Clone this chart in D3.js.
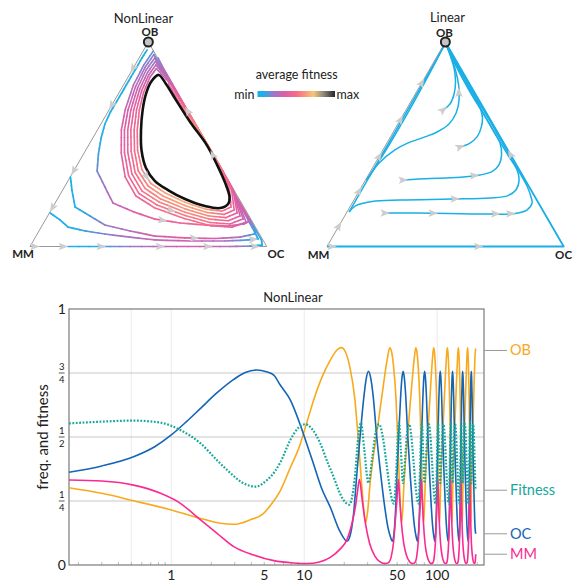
<!DOCTYPE html>
<html><head><meta charset="utf-8">
<script src="https://cdn.jsdelivr.net/npm/d3@7"></script>
<style>
body{margin:0;background:#fff;}
svg text{font-family:Lato,"Open Sans",sans-serif;fill:#222;}
</style></head><body>
<svg id="chart" width="574" height="582"></svg>
<script>
// ================= DATA =================
// bottom chart: time ticks (log axis)
const timeTicks = [1, 5, 10, 50, 100];
const minorTimeTicks = [0.2,0.3,0.4,0.5,0.6,0.7,0.8,0.9,2,3,4,5,6,7,8,9,20,30,40,50,60,70,80,90,200];
const gridTimes = [0.5, 1, 10, 100];
const yTickVals = [0, 0.25, 0.5, 0.75, 1];
const yTickNum = ['0', '1', '1', '3', '1'];
const yTickDen = [null, '4', '2', '4', null];

// series [time, value]
const seriesOB = [
[0.17,.302],[0.3,.28],[0.52,.251],[1,.215],[1.66,.182],[2.34,.163],[2.95,.159],[3.9,.176],[4.9,.2],[5.8,.245],[6.6,.29],[7.85,.38],[9.3,.47],[10.5,.56],[11.7,.64],[13.5,.73],[15.7,.8],[17.3,.835],[19,.849],
[20.5,.83],[22,.775],[24,.65],[25.5,.49],[27,.32],[28,.22],[29,.165],[30,.21],[31.3,.32],[33,.42],[35,.508],[37,.6],[39.4,.703],[42,.8],[44,.848],
[45.5,.83],[47,.775],[49,.65],[50.5,.49],[52,.32],[53,.22],[54,.165],[55,.21],[56.3,.32],[58,.42],[60,.508],[62,.6],[64.4,.703],[67,.8],[69,.848],
[70.5,.83],[72,.775],[74,.65],[75.5,.49],[77,.32],[78,.22],[79,.165],[80,.21],[81.3,.32],[83,.42],[85,.508],[87,.6],[89.4,.703],[92,.8],[94,.848],
[95.5,.83],[97,.775],[99,.65],[100.5,.49],[102,.32],[103,.22],[104,.165],[105,.21],[106.3,.32],[108,.42],[110,.508],[112,.6],[114.4,.703],[117,.8],[119,.848],
[120.5,.83],[122,.775],[124,.65],[125.5,.49],[127,.32],[128,.22],[129,.165],[130,.21],[131.3,.32],[133,.42],[135,.508],[137,.6],[139.4,.703],[142,.8],[144,.848],
[145.5,.83],[147,.775],[149,.65],[150.5,.49],[152,.32],[153,.22],[154,.165],[155,.21],[156.3,.32],[158,.42],[160,.508],[162,.6],[164.4,.703],[167,.8],[169,.848],
[170.5,.83],[172,.775],[174,.65],[175.5,.49],[177,.32],[178,.22],[179,.165],[180,.21],[181.3,.32],[183,.42],[185,.508],[187,.6],[189.4,.703],[192,.8],[194,.845],[195,.838]
];
const seriesOC = [
[0.17,.362],[0.3,.387],[0.52,.423],[0.75,.462],[1,.508],[1.3,.56],[1.66,.612],[2.2,.672],[2.95,.725],[3.6,.752],[4.4,.762],[5.2,.755],[5.9,.742],[6.6,.703],[7.85,.645],[9.3,.55],[10.5,.47],[11.7,.397],[13.5,.3],[15.7,.226],[18.6,.13],[21,.093],
[22,.11],[23.5,.2],[25,.37],[26.5,.52],[28,.65],[29.3,.73],[30.4,.757],[31.5,.735],[33,.66],[35,.508],[37.5,.36],[40,.24],[42.5,.15],[44.5,.11],[46,.093],
[47,.11],[48.5,.2],[50,.37],[51.5,.52],[53,.65],[54.3,.73],[55.4,.757],[56.5,.735],[58,.66],[60,.508],[62.5,.36],[65,.24],[67.5,.15],[69.5,.11],[71,.093],
[72,.11],[73.5,.2],[75,.37],[76.5,.52],[78,.65],[79.3,.73],[80.4,.757],[81.5,.735],[83,.66],[85,.508],[87.5,.36],[90,.24],[92.5,.15],[94.5,.11],[96,.093],
[97,.11],[98.5,.2],[100,.37],[101.5,.52],[103,.65],[104.3,.73],[105.4,.757],[106.5,.735],[108,.66],[110,.508],[112.5,.36],[115,.24],[117.5,.15],[119.5,.11],[121,.093],
[122,.11],[123.5,.2],[125,.37],[126.5,.52],[128,.65],[129.3,.73],[130.4,.757],[131.5,.735],[133,.66],[135,.508],[137.5,.36],[140,.24],[142.5,.15],[144.5,.11],[146,.093],
[147,.11],[148.5,.2],[150,.37],[151.5,.52],[153,.65],[154.3,.73],[155.4,.757],[156.5,.735],[158,.66],[160,.508],[162.5,.36],[165,.24],[167.5,.15],[169.5,.11],[171,.093],
[172,.11],[173.5,.2],[175,.37],[176.5,.52],[178,.65],[179.3,.73],[180.4,.757],[181.5,.735],[183,.66],[185,.508],[187.5,.36],[190,.24],[192.5,.15],[195,.122]
];
const seriesMM = [
[0.17,.332],[0.3,.328],[0.52,.312],[0.83,.28],[1.17,.241],[1.66,.176],[2.21,.124],[2.95,.072],[4.17,.039],[5.9,.017],[8.3,.008],[10.5,.006],[13,.012],[15.7,.03],[18.6,.062],[21,.1],[22.8,.16],[24.3,.23],[25.2,.29],[26,.335],
[27.2,.26],[28.7,.17],[31,.085],[34,.035],[37,.013],[40,.006],[42,.007],[43.5,.012],[45,.03],[47,.09],[48.7,.19],[49.9,.26],[51,.335],
[52.2,.26],[53.7,.17],[56,.085],[59,.035],[62,.013],[65,.006],[67,.007],[68.5,.012],[70,.03],[72,.09],[73.7,.19],[74.9,.26],[76,.335],
[77.2,.26],[78.7,.17],[81,.085],[84,.035],[87,.013],[90,.006],[92,.007],[93.5,.012],[95,.03],[97,.09],[98.7,.19],[99.9,.26],[101,.335],
[102.2,.26],[103.7,.17],[106,.085],[109,.035],[112,.013],[115,.006],[117,.007],[118.5,.012],[120,.03],[122,.09],[123.7,.19],[124.9,.26],[126,.335],
[127.2,.26],[128.7,.17],[131,.085],[134,.035],[137,.013],[140,.006],[142,.007],[143.5,.012],[145,.03],[147,.09],[148.7,.19],[149.9,.26],[151,.335],
[152.2,.26],[153.7,.17],[156,.085],[159,.035],[162,.013],[165,.006],[167,.007],[168.5,.012],[170,.03],[172,.09],[173.7,.19],[174.9,.26],[176,.335],
[177.2,.26],[178.7,.17],[181,.085],[184,.035],[187,.013],[190,.006],[192,.007],[193.5,.015],[195,.042]
];
const seriesFitness = [
[0.17,.553],[0.3,.56],[0.52,.564],[0.83,.556],[1.17,.527],[1.66,.475],[2.2,.41],[2.63,.371],[3.5,.319],[4.29,.306],[5.25,.332],[6,.365],[6.6,.4],[7.85,.488],[9,.535],[10.2,.55],[11.5,.53],[13.2,.475],[15,.4],[16.6,.345],[18.2,.29],[19.7,.254],[21.8,.236],
[24,.34],[25.5,.5],[26.7,.556],[28.3,.45],[30.4,.32],[32.5,.42],[34.5,.52],[36.6,.55],[39,.5],[41.5,.4],[44,.3],[47.2,.24],
[49,.34],[50.5,.5],[51.7,.556],[53.3,.45],[55.4,.32],[57.5,.42],[59.5,.52],[61.6,.55],[64,.5],[66.5,.4],[69,.3],[72.2,.24],
[74,.34],[75.5,.5],[76.7,.556],[78.3,.45],[80.4,.32],[82.5,.42],[84.5,.52],[86.6,.55],[89,.5],[91.5,.4],[94,.3],[97.2,.24],
[99,.34],[100.5,.5],[101.7,.556],[103.3,.45],[105.4,.32],[107.5,.42],[109.5,.52],[111.6,.55],[114,.5],[116.5,.4],[119,.3],[122.2,.24],
[124,.34],[125.5,.5],[126.7,.556],[128.3,.45],[130.4,.32],[132.5,.42],[134.5,.52],[136.6,.55],[139,.5],[141.5,.4],[144,.3],[147.2,.24],
[149,.34],[150.5,.5],[151.7,.556],[153.3,.45],[155.4,.32],[157.5,.42],[159.5,.52],[161.6,.55],[164,.5],[166.5,.4],[169,.3],[172.2,.24],
[174,.34],[175.5,.5],[176.7,.556],[178.3,.45],[180.4,.32],[182.5,.42],[184.5,.52],[186.6,.55],[189,.5],[191.5,.4],[194,.3],[195,.292]
];
const seriesLabels = ['OB', 'OC', 'MM', 'Fitness'];

// ternary trajectories: [freq OB, freq OC, avg fitness level 0..1]  (MM = 1 - OB - OC)
const nlLimitCycle = [[.839,.124],[.795,.177],[.716,.259],[.609,.372],[.496,.499],[.399,.591],[.311,.669],[.242,.722],[.208,.733],[.188,.709],[.198,.640],[.232,.539],[.276,.445],[.320,.368],[.384,.298],[.472,.235],[.570,.184],[.668,.142],[.746,.117],[.804,.109]];
const nlSpiral = [
[.956,.043,.14],[.888,.037,.18],[.790,.042,.24],[.668,.068,.3],[.570,.101,.34],[.457,.157,.37],[.340,.232,.41],[.247,.324,.45],[.188,.434,.49],[.136,.587,.52],[.101,.714,.49],[.094,.806,.39],[.120,.853,.29],[.276,.720,.29],[.311,.686,.35],[.399,.600,.45],[.496,.503,.5],[.609,.388,.45],[.716,.280,.34],[.795,.201,.23],
[.939,.054,.17],[.875,.048,.21],[.782,.055,.27],[.668,.080,.33],[.570,.114,.37],[.460,.169,.4],[.347,.243,.44],[.259,.331,.48],[.203,.435,.52],[.152,.579,.55],[.117,.702,.52],[.110,.790,.42],[.135,.833,.32],[.276,.720,.32],[.311,.686,.38],[.399,.600,.48],[.496,.503,.53],[.609,.388,.48],[.716,.280,.37],[.795,.201,.26],
[.922,.066,.2],[.863,.059,.24],[.775,.067,.3],[.668,.092,.36],[.570,.128,.4],[.462,.182,.43],[.355,.253,.47],[.271,.338,.51],[.218,.436,.55],[.168,.571,.58],[.134,.689,.55],[.126,.774,.45],[.149,.813,.35],[.276,.720,.35],[.311,.686,.41],[.399,.600,.51],[.496,.503,.56],[.609,.388,.51],[.716,.280,.4],[.795,.201,.29],
[.905,.077,.23],[.851,.071,.27],[.768,.079,.33],[.668,.104,.39],[.570,.141,.43],[.465,.195,.46],[.362,.263,.5],[.284,.344,.54],[.232,.437,.58],[.184,.563,.61],[.150,.677,.58],[.141,.757,.48],[.164,.793,.38],[.276,.720,.38],[.311,.686,.44],[.399,.600,.54],[.496,.503,.59],[.609,.388,.54],[.716,.280,.43],[.795,.201,.32],
[.888,.088,.26],[.839,.082,.3],[.760,.091,.36],[.668,.116,.42],[.570,.155,.46],[.467,.208,.49],[.369,.273,.53],[.296,.351,.57],[.247,.438,.61],[.200,.555,.64],[.166,.665,.61],[.157,.741,.51],[.179,.773,.41],[.276,.714,.41],[.311,.683,.47],[.399,.598,.57],[.496,.502,.62],[.609,.385,.57],[.716,.275,.46],[.795,.196,.35],
[.870,.099,.29],[.826,.093,.33],[.753,.103,.39],[.668,.128,.45],[.570,.168,.49],[.469,.220,.52],[.377,.284,.56],[.308,.357,.6],[.262,.440,.64],[.216,.547,.67],[.182,.653,.64],[.173,.725,.54],[.193,.753,.44],[.276,.705,.44],[.311,.676,.5],[.399,.594,.6],[.496,.500,.65],[.609,.378,.6],[.716,.267,.49],[.795,.187,.38]
];
const nlBottom = [[0,.161,.02],[0,.296,.1],[0,.422,.2],[0,.570,.3],[0,.718,.33],[0,.845,.27],[.002,.928,.15],[.007,.977,.05],[.032,.962,.06],[.110,.883,.2],[.213,.781,.35],[.311,.681,.48],[.399,.595,.58],[.496,.502,.62],[.609,.389,.58],[.716,.282,.47],[.795,.204,.35],[.873,.126,.27],[.922,.080,.2]];
const nlLeftA = [[.961,.014,.04],[.922,.012,.04],[.878,.013,.04],[.829,.012,.04],[.770,.012,.04],[.712,.012,.05],[.658,.011,.05],[.599,.017,.06],[.531,.035,.08],[.452,.063,.11],[.369,.099,.16],[.291,.171,.22],[.213,.244,.28],[.169,.355,.35],[.134,.461,.41],[.115,.576,.45],[.105,.687,.45],[.100,.786,.4],[.110,.849,.32],[.125,.867,.28],[.159,.833,.33],[.213,.772,.4]];
const nlLeftB = [[.340,.001,.02],[.276,.039,.03],[.193,.094,.05],[.149,.179,.12],[.105,.264,.19],[.076,.385,.26],[.051,.502,.32],[.042,.634,.36],[.039,.762,.34],[.046,.864,.24],[.061,.916,.12],[.076,.917,.1],[.130,.865,.2],[.193,.799,.3],[.276,.715,.4]];
const nlLeftC = [[.164,.003,.02],[.130,.062,.03],[.095,.113,.05],[.076,.195,.11],[.061,.286,.17],[.046,.399,.24],[.032,.512,.29],[.027,.663,.32],[.027,.810,.25],[.032,.905,.1],[.037,.945,.04],[.076,.909,.1],[.130,.856,.2],[.203,.786,.3]];

const linEdgeTraj = [[0,0],[0,1],[1,0]];
const linE1 = [[.169,.009],[.374,.008],[.577,.007],[.782,.006],[.97,.004],[.995,.002]];
const linE2 = [[.325,.006],[.5,.014],[.7,.014],[.9,.008],[.995,.002]];
const linC1 = [[.169,.009],[.200,.022],[.220,.080],[.227,.195],[.232,.408],[.237,.570],[.249,.640],[.276,.660],[.325,.649],[.374,.616],[.447,.541],[.545,.441],[.697,.290],[.848,.138],[.976,.019],[.995,.003]];
const linC2 = [[.164,.163],[.164,.311],[.159,.588],[.161,.714],[.179,.756],[.213,.760],[.242,.741],[.296,.697],[.357,.637],[.484,.510],[.643,.352],[.814,.180],[.976,.023],[.995,.003]];
const linC3 = [[.325,.159],[.333,.269],[.336,.356],[.350,.472],[.366,.514],[.399,.527],[.447,.514],[.506,.478],[.570,.416],[.643,.342],[.756,.226],[.873,.113],[.971,.026],[.995,.003]];
const linC4 = [[.487,.319],[.506,.351],[.536,.366],[.580,.361],[.628,.343],[.682,.305],[.741,.251],[.824,.167],[.922,.071],[.990,.010]];
const linC5 = [[.668,.156],[.697,.171],[.746,.164],[.804,.141],[.873,.100],[.936,.052],[.990,.008]];
const linC6 = [[.325,.004],[.408,.016],[.472,.051],[.504,.086],[.536,.146],[.560,.185],[.599,.216],[.653,.219],[.716,.200],[.790,.161],[.873,.104],[.941,.049],[.990,.008]];

// legend colour stops (average fitness)
const fitStops = [0, .08, .2, .35, .5, .63, .72, .85, 1];
const fitColors = ['#19b1e6','#22aee6','#9a78c9','#dc5ea6','#f56a8c','#f89c78','#f7c67c','#8e897c','#262626'];

// ================= DRAW =================
const svg = d3.select('#chart');
const colorScale = d3.scaleLinear().domain(fitStops).range(fitColors).clamp(true);
const CYAN = '#1aafe6';
const ARROW = '#cdcdcd';

function makeTri(mmX, ocX, baseY, apexY){
  const xs = d3.scaleLinear().domain([0,1]).range([mmX, ocX]);
  const ys = d3.scaleLinear().domain([0,1]).range([baseY, apexY]);
  return d => [xs(d[1] + d[0]/2), ys(d[0])];
}
const nlP = makeTri(30, 266.7, 246.5, 42);
const linP = makeTri(327, 563.7, 246.5, 42);

function arrowOn(g, pts, i, t){
  const a = pts[i], b = pts[Math.min(i+1, pts.length-1)];
  const x = a[0] + (b[0]-a[0])*t, y = a[1] + (b[1]-a[1])*t;
  const ang = Math.atan2(b[1]-a[1], b[0]-a[0]) * 180 / Math.PI;
  g.append('path').attr('d','M5,0L-4.5,-3.8L-2.5,0L-4.5,3.8Z')
    .attr('transform',`translate(${x},${y}) rotate(${ang})`)
    .attr('fill', ARROW);
}

function coloredPath(g, data, P, w){
  for (let i = 0; i < data.length-1; i++){
    const a = P(data[i]), b = P(data[i+1]);
    const n = 3;
    for (let k = 0; k < n; k++){
      const t0 = k/n, t1 = (k+1)/n, tm = (t0+t1)/2;
      const f = data[i][2] + (data[i+1][2]-data[i][2])*tm;
      g.append('line')
        .attr('x1', a[0]+(b[0]-a[0])*t0).attr('y1', a[1]+(b[1]-a[1])*t0)
        .attr('x2', a[0]+(b[0]-a[0])*t1).attr('y2', a[1]+(b[1]-a[1])*t1)
        .attr('stroke', colorScale(f)).attr('stroke-width', w).attr('stroke-linecap','round');
    }
  }
}

// ---- NonLinear triangle ----
const gN = svg.append('g');
const nlVert = {OB:nlP([1,0]), MM:nlP([0,0]), OC:nlP([0,1])};
gN.append('path').attr('d', d3.line()([nlVert.OB, nlVert.MM, nlVert.OC, nlVert.OB]))
  .attr('fill','none').attr('stroke','#9a9a9a').attr('stroke-width',1);
coloredPath(gN, nlBottom, nlP, 1.7);
coloredPath(gN, nlLeftC, nlP, 1.7);
coloredPath(gN, nlLeftB, nlP, 1.7);
coloredPath(gN, nlLeftA, nlP, 1.7);
coloredPath(gN, nlSpiral, nlP, 1.6);
gN.append('path').datum(nlLimitCycle.map(nlP))
  .attr('d', d3.line().curve(d3.curveCatmullRomClosed.alpha(0.5)))
  .attr('fill','none').attr('stroke','#111').attr('stroke-width',2.6);

const nlPix = {
  left:[nlVert.OB, nlVert.MM], base:[nlVert.MM, nlVert.OC],
  bottom:nlBottom.map(nlP), spiral:nlSpiral.map(nlP),
  A:nlLeftA.map(nlP), B:nlLeftB.map(nlP), C:nlLeftC.map(nlP)
};
[['left',0,.13],['left',0,.31],['left',0,.63],['left',0,.81],
 ['base',0,.02],['base',0,.14],['base',0,.3],['base',0,.55],['base',0,.75],['base',0,.95],
 ['bottom',12,.5],['bottom',14,.5],['spiral',106,.5],['spiral',28,.5],
 ['A',14,.3],['B',7,.3],['C',9,.5]].forEach(a => arrowOn(gN, nlPix[a[0]], a[1], a[2]));

gN.append('circle').attr('cx',nlVert.OB[0]).attr('cy',nlVert.OB[1]).attr('r',4.5)
  .attr('fill','#c4c4c4').attr('stroke','#222').attr('stroke-width',2);
gN.append('text').attr('x',143.5).attr('y',22.5).attr('text-anchor','middle').attr('font-size',13).text('NonLinear');
gN.append('text').attr('x',150).attr('y',35.5).attr('text-anchor','middle').attr('font-size',11.5).attr('font-weight',700).text('OB');
gN.append('text').attr('x',23).attr('y',258).attr('text-anchor','middle').attr('font-size',11.5).attr('font-weight',700).text('MM');
gN.append('text').attr('x',276).attr('y',258).attr('text-anchor','middle').attr('font-size',11.5).attr('font-weight',700).text('OC');

// ---- Linear triangle ----
const gL = svg.append('g');
const linVert = {OB:linP([1,0]), MM:linP([0,0]), OC:linP([0,1])};
gL.append('path').attr('d', d3.line()([linVert.OB, linVert.MM, linVert.OC, linVert.OB]))
  .attr('fill','none').attr('stroke','#9a9a9a').attr('stroke-width',1);
const linCurve = d3.line().curve(d3.curveCatmullRom.alpha(0.5));
const linTraj = {edge:linEdgeTraj, E1:linE1, E2:linE2, C1:linC1, C2:linC2, C3:linC3, C4:linC4, C5:linC5, C6:linC6};
const linPix = {};
Object.keys(linTraj).forEach(k => {
  linPix[k] = linTraj[k].map(linP);
  gL.append('path').attr('d', k === 'edge' ? d3.line()(linPix[k]) : linCurve(linPix[k]))
    .attr('fill','none').attr('stroke',CYAN).attr('stroke-width', k === 'edge' ? 1.8 : 1.5)
    .attr('stroke-linejoin','round');
});
linPix.left = [linVert.MM, linVert.OB];
linPix.right = [linVert.OC, linVert.OB];
[['left',0,.1],['left',0,.27],['left',0,.44],['left',0,.62],['left',0,.8],
 ['edge',0,.02],['edge',0,.64],['right',0,.45],
 ['C2',0,0],['C2',1,.2],['C2',2,.35],['C2',2,.85],['C1',4,.1],
 ['C3',0,0],['C3',2,.8],['C4',0,0],['C5',0,0],['C6',8,.5]].forEach(a => arrowOn(gL, linPix[a[0]], a[1], a[2]));
gL.append('circle').attr('cx',linVert.OB[0]).attr('cy',linVert.OB[1]).attr('r',4.5)
  .attr('fill','#c4c4c4').attr('stroke','#222').attr('stroke-width',2);
gL.append('text').attr('x',447.5).attr('y',21.5).attr('text-anchor','middle').attr('font-size',13).text('Linear');
gL.append('text').attr('x',444.5).attr('y',36.5).attr('text-anchor','middle').attr('font-size',11.5).attr('font-weight',700).text('OB');
gL.append('text').attr('x',318.5).attr('y',258.5).attr('text-anchor','middle').attr('font-size',11.5).attr('font-weight',700).text('MM');
gL.append('text').attr('x',572).attr('y',258.5).attr('text-anchor','end').attr('font-size',11.5).attr('font-weight',700).text('OC');

// ---- legend ----
const defs = svg.append('defs');
const grad = defs.append('linearGradient').attr('id','fitGrad');
fitStops.forEach((s,i) => grad.append('stop').attr('offset', s).attr('stop-color', fitColors[i]));
const gLeg = svg.append('g');
gLeg.append('text').attr('x',296.7).attr('y',79).attr('text-anchor','middle').attr('font-size',12.5).text('average fitness');
gLeg.append('rect').attr('x',257.5).attr('y',91).attr('width',77.5).attr('height',6).attr('fill','url(#fitGrad)');
gLeg.append('text').attr('x',254.5).attr('y',98.5).attr('text-anchor','end').attr('font-size',12.5).text('min');
gLeg.append('text').attr('x',336.5).attr('y',98.5).attr('text-anchor','start').attr('font-size',12.5).text('max');

// ---- bottom time-series chart ----
const x = d3.scaleLog().domain([0.17, 225]).range([69, 484]);
const y = d3.scaleLinear().domain([0, 1]).range([565, 309]);
const gB = svg.append('g');
gB.selectAll('line.vg').data(gridTimes).join('line')
  .attr('x1',d=>x(d)).attr('x2',d=>x(d)).attr('y1',309).attr('y2',565)
  .attr('stroke','#ececec').attr('stroke-width',1);
gB.selectAll('line.hg').data([0.25,0.5,0.75]).join('line')
  .attr('x1',69).attr('x2',484).attr('y1',d=>y(d)).attr('y2',d=>y(d))
  .attr('stroke','#c8c8c8').attr('stroke-width',1);
gB.selectAll('line.mt').data(minorTimeTicks).join('line')
  .attr('x1',d=>x(d)).attr('x2',d=>x(d)).attr('y1',565).attr('y2',562)
  .attr('stroke','#aaa').attr('stroke-width',0.8);
gB.append('rect').attr('x',69).attr('y',309).attr('width',415).attr('height',256)
  .attr('fill','none').attr('stroke','#7a7a7a').attr('stroke-width',1.2);

const line = d3.line().x(d=>x(d[0])).y(d=>y(d[1])).curve(d3.curveMonotoneX);
const seriesData = {OB:seriesOB, OC:seriesOC, MM:seriesMM, Fitness:seriesFitness};
const seriesColor = {OB:'#f8a91c', OC:'#1565b5', MM:'#fb2a92', Fitness:'#16a79a'};
seriesLabels.forEach(k => {
  gB.append('path').datum(seriesData[k]).attr('d', line)
    .attr('fill','none').attr('stroke', seriesColor[k])
    .attr('stroke-width', k === 'Fitness' ? 2.2 : 1.6)
    .attr('stroke-dasharray', k === 'Fitness' ? '1.8,1.6' : null);
});
// right-hand series labels with leader lines
seriesLabels.forEach(k => {
  const last = seriesData[k][seriesData[k].length-1][1];
  gB.append('line').attr('x1',484).attr('x2',507).attr('y1',y(last)).attr('y2',y(last))
    .attr('stroke','#9a9a9a').attr('stroke-width',1);
  gB.append('text').attr('x',510).attr('y',y(last)+5).attr('font-size',14.5)
    .style('fill', seriesColor[k]).text(k);
});
// y tick labels (fractions)
yTickVals.forEach((v,i) => {
  const yy = y(v);
  if (yTickDen[i] === null){
    gB.append('text').attr('x',61.7).attr('y',yy+5).attr('text-anchor','middle').attr('font-size',14).text(yTickNum[i]);
  } else {
    gB.append('text').attr('x',61.7).attr('y',yy-2.8).attr('text-anchor','middle').attr('font-size',9.5).text(yTickNum[i]);
    gB.append('line').attr('x1',58.8).attr('x2',64.6).attr('y1',yy).attr('y2',yy).attr('stroke','#333').attr('stroke-width',0.8);
    gB.append('text').attr('x',61.7).attr('y',yy+9.6).attr('text-anchor','middle').attr('font-size',9.5).text(yTickDen[i]);
  }
});
// x tick labels
gB.selectAll('text.xt').data(timeTicks).join('text')
  .attr('x',d=>x(d)).attr('y',579.5).attr('text-anchor','middle').attr('font-size',14).text(d=>d);
gB.append('text').attr('transform','translate(48,437) rotate(-90)')
  .attr('text-anchor','middle').attr('font-size',15).text('freq. and fitness');
gB.append('text').attr('x',293).attr('y',302).attr('text-anchor','middle').attr('font-size',13).text('NonLinear');
</script>
</body></html>
